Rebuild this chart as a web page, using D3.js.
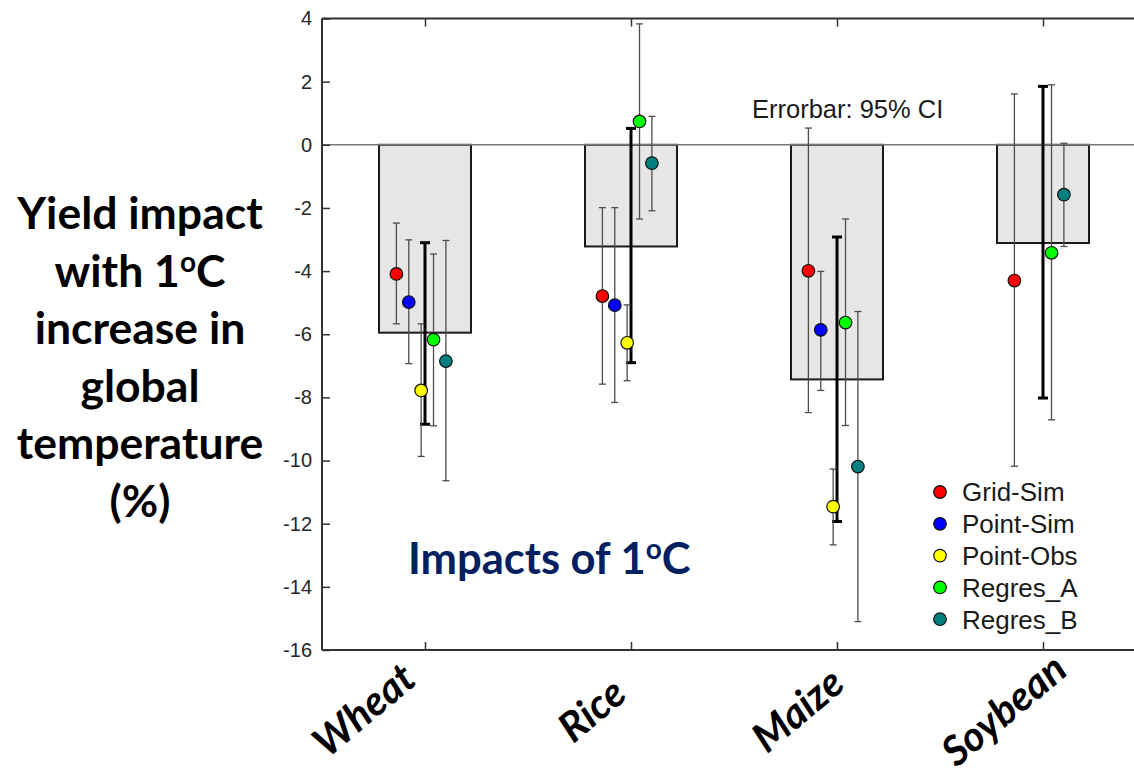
<!DOCTYPE html>
<html>
<head>
<meta charset="utf-8">
<script src="https://cdn.jsdelivr.net/npm/d3@7"></script>
<style>
  html, body { margin: 0; padding: 0; background: #fff; }
  svg { display: block; }
</style>
</head>
<body>
<svg id="chart" width="1134" height="777"></svg>
<script>
// ---------------- data ----------------
const crops = ["Wheat", "Rice", "Maize", "Soybean"];
const barValues = [-5.95, -3.22, -7.43, -3.11];          // grey bars (ensemble mean)
const ensembleLow = [-8.85, -6.90, -11.93, -8.02];       // thick black CI
const ensembleHigh = [-3.10, 0.52, -2.92, 1.85];

const methods = ["Grid-Sim", "Point-Sim", "Point-Obs", "Regres_A", "Regres_B"];
const methodColors = ["#ff0000", "#0000ff", "#ffff00", "#00ff00", "#008080"];

// [mean, low, high] per crop (null = not available)
const gridSim  = [[-4.09, -5.67, -2.48], [-4.79, -7.58, -1.99], [-3.99, -8.48, 0.53], [-4.30, -10.18, 1.61]];
const pointSim = [[-4.98, -6.93, -3.01], [-5.08, -8.16, -1.99], [-5.86, -7.78, -4.01], null];
const pointObs = [[-7.78, -9.87, -5.67], [-6.27, -7.47, -5.07], [-11.46, -12.67, -10.27], null];
const regresA  = [[-6.17, -8.90, -3.46], [0.74, -2.35, 3.83], [-5.63, -8.89, -2.35], [-3.42, -8.71, 1.90]];
const regresB  = [[-6.85, -10.64, -3.03], [-0.58, -2.09, 0.90], [-10.19, -15.10, -5.28], [-1.58, -3.22, 0.05]];
const methodSeries = [gridSim, pointSim, pointObs, regresA, regresB];

const yTicks = [4, 2, 0, -2, -4, -6, -8, -10, -12, -14, -16];
const yTitleLines = ["Yield impact", "with 1|o|C", "increase in", "global", "temperature", "(%)"];
const errorbarNote = "Errorbar: 95% CI";

// ---------------- layout ----------------
const svg = d3.select("#chart");
const plotLeft = 322, plotRight = 1146, plotTop = 18.5, plotBottom = 650;
const labelNudge = { Wheat: -22 };

const x = d3.scaleBand().domain(crops).range([plotLeft, plotRight]);
const y = d3.scaleLinear().domain([-16, 4]).range([plotBottom, plotTop]);
const barW = 92;
const methodOffset = d3.scaleLinear().domain([0, 4]).range([-28.6, 20.9]);
const cx = c => x(c) + x.bandwidth() / 2;

const axisColor = "#333";

// bars
svg.append("g").selectAll("rect").data(crops).join("rect")
  .attr("x", c => cx(c) - barW / 2)
  .attr("width", barW)
  .attr("y", (c, i) => y(Math.max(0, barValues[i])))
  .attr("height", (c, i) => Math.abs(y(barValues[i]) - y(0)))
  .attr("fill", "#e6e6e6")
  .attr("stroke", "#1a1a1a")
  .attr("stroke-width", 2);

// zero line
svg.append("line")
  .attr("x1", plotLeft).attr("x2", plotRight)
  .attr("y1", y(0)).attr("y2", y(0))
  .attr("stroke", "#7a7a7a").attr("stroke-width", 1.5);

// frame
const frame = svg.append("g").attr("stroke", axisColor).attr("stroke-width", 2).attr("fill", "none");
frame.append("line").attr("x1", plotLeft).attr("x2", plotRight).attr("y1", plotTop).attr("y2", plotTop);
frame.append("line").attr("x1", plotLeft).attr("x2", plotRight).attr("y1", plotBottom).attr("y2", plotBottom);
frame.append("line").attr("x1", plotLeft).attr("x2", plotLeft).attr("y1", plotTop).attr("y2", plotBottom);

// y axis
const yAxis = d3.axisLeft(y).tickValues(yTicks).tickSizeInner(-8).tickSizeOuter(0).tickPadding(10).tickFormat(d3.format("d"));
const gy = svg.append("g").attr("transform", `translate(${plotLeft},0)`).call(yAxis);
gy.select(".domain").remove();
gy.selectAll(".tick line").attr("stroke", axisColor).attr("stroke-width", 1.5);
gy.selectAll(".tick text")
  .attr("font-family", "'Liberation Sans', Arial, sans-serif")
  .attr("font-size", 20).attr("fill", "#262626")
  .text(d => d < 0 ? "-" + Math.abs(d) : d);

// x ticks top and bottom (inward)
const xAxisB = d3.axisBottom(d3.scalePoint().domain(crops).range([cx(crops[0]), cx(crops[3])]))
  .tickSizeInner(-8).tickSizeOuter(0).tickFormat("");
const gxb = svg.append("g").attr("transform", `translate(0,${plotBottom})`).call(xAxisB);
gxb.select(".domain").remove();
gxb.selectAll(".tick line").attr("stroke", axisColor).attr("stroke-width", 1.5);
const xAxisT = d3.axisTop(d3.scalePoint().domain(crops).range([cx(crops[0]), cx(crops[3])]))
  .tickSizeInner(-8).tickSizeOuter(0).tickFormat("");
const gxt = svg.append("g").attr("transform", `translate(0,${plotTop})`).call(xAxisT);
gxt.select(".domain").remove();
gxt.selectAll(".tick line").attr("stroke", axisColor).attr("stroke-width", 1.5);

// crop labels
svg.append("g").selectAll("text").data(crops).join("text")
  .attr("transform", c => `translate(${cx(c) - 40 + (labelNudge[c] || 0)},${709}) rotate(-40)`)
  .attr("text-anchor", "middle")
  .attr("dominant-baseline", "central")
  .attr("font-family", "Lato, 'Open Sans', sans-serif")
  .attr("font-weight", 700).attr("font-style", "italic")
  .attr("font-size", 41).attr("fill", "#000")
  .text(c => c);

// ensemble thick error bars
const eg = svg.append("g").attr("stroke", "#000").attr("stroke-width", 3);
crops.forEach((c, i) => {
  const xc = cx(c);
  eg.append("line").attr("x1", xc).attr("x2", xc).attr("y1", y(ensembleLow[i])).attr("y2", y(ensembleHigh[i]));
  eg.append("line").attr("x1", xc - 5).attr("x2", xc + 5).attr("y1", y(ensembleLow[i])).attr("y2", y(ensembleLow[i]));
  eg.append("line").attr("x1", xc - 5).attr("x2", xc + 5).attr("y1", y(ensembleHigh[i])).attr("y2", y(ensembleHigh[i]));
});

// method error bars
const mg = svg.append("g").attr("stroke", "#4d4d4d").attr("stroke-width", 1.3);
methodSeries.forEach((series, m) => {
  crops.forEach((c, i) => {
    const d = series[i];
    if (!d) return;
    const xm = cx(c) + methodOffset(m);
    mg.append("line").attr("x1", xm).attr("x2", xm).attr("y1", y(d[1])).attr("y2", y(d[2]));
    mg.append("line").attr("x1", xm - 3.5).attr("x2", xm + 3.5).attr("y1", y(d[1])).attr("y2", y(d[1]));
    mg.append("line").attr("x1", xm - 3.5).attr("x2", xm + 3.5).attr("y1", y(d[2])).attr("y2", y(d[2]));
  });
});

// method points
const pg = svg.append("g");
methodSeries.forEach((series, m) => {
  crops.forEach((c, i) => {
    const d = series[i];
    if (!d) return;
    pg.append("circle")
      .attr("cx", cx(c) + methodOffset(m)).attr("cy", y(d[0])).attr("r", 6.3)
      .attr("fill", methodColors[m]).attr("stroke", "#111").attr("stroke-width", 1.2);
  });
});

// note
svg.append("text").attr("x", 752).attr("y", 118)
  .attr("font-family", "'Liberation Sans', Arial, sans-serif")
  .attr("font-size", 25.5).attr("fill", "#1a1a1a")
  .text(errorbarNote);

// legend
const lg = svg.append("g");
methods.forEach((m, i) => {
  const ly = 492 + i * 31.8;
  lg.append("circle").attr("cx", 940).attr("cy", ly).attr("r", 6.3)
    .attr("fill", methodColors[i]).attr("stroke", "#111").attr("stroke-width", 1.2);
  lg.append("text").attr("x", 962).attr("y", ly).attr("dy", "0.36em")
    .attr("font-family", "'Liberation Sans', Arial, sans-serif")
    .attr("font-size", 26).attr("fill", "#1a1a1a").text(m);
});

// Impacts of 1oC
const imp = svg.append("text").attr("x", 408).attr("y", 574)
  .attr("font-family", "Lato, 'Open Sans', sans-serif")
  .attr("font-weight", 700).attr("font-size", 43.5).attr("fill", "#002060");
imp.append("tspan").text("Impacts of 1");
imp.append("tspan").attr("font-size", 28).attr("dy", -15).text("o");
imp.append("tspan").attr("dy", 15).text("C");

// y title
const yt = svg.append("text")
  .attr("font-family", "Lato, 'Open Sans', sans-serif")
  .attr("font-weight", 700).attr("font-size", 44.5).attr("fill", "#000")
  .attr("text-anchor", "middle");
yTitleLines.forEach((line, i) => {
  const t = yt.append("tspan").attr("x", 140).attr("y", 229 + i * 57.6);
  const parts = line.split("|");
  if (parts.length === 1) { t.text(line); }
  else {
    t.append("tspan").text(parts[0]);
    t.append("tspan").attr("font-size", 28).attr("dy", -15).text(parts[1]);
    t.append("tspan").attr("dy", 15).text(parts[2]);
  }
});
</script>
</body>
</html>
